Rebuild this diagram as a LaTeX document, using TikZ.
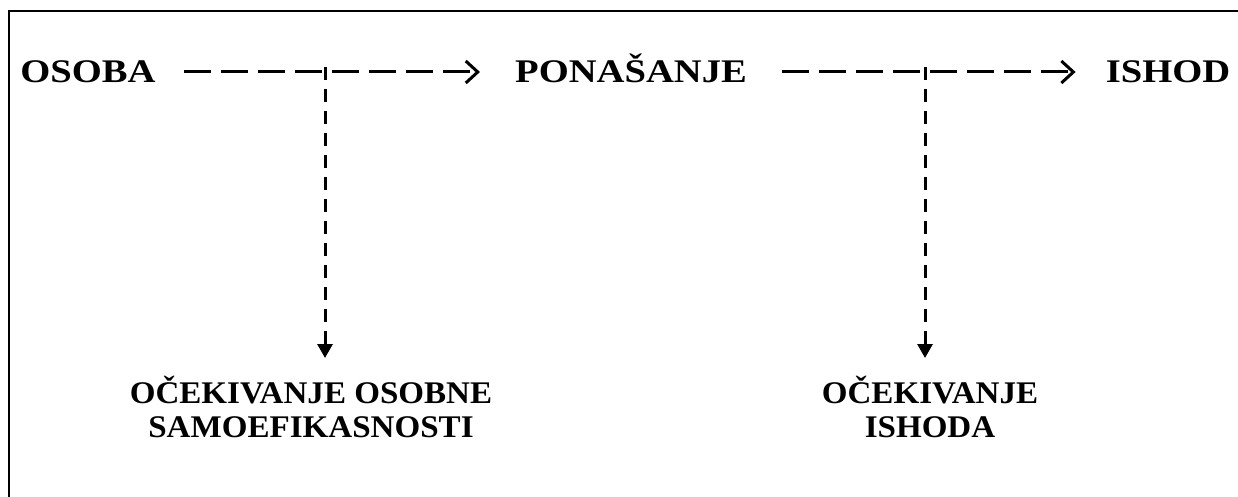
\documentclass[tikz,border=0pt]{standalone}
\usepackage{fontspec}
\usepackage{graphicx}
\setmainfont{Liberation Serif}
\usetikzlibrary{arrows.meta}
\begin{document}
\begin{tikzpicture}[x=1pt,y=-1pt,
  toplbl/.style={font=\bfseries\fontsize{33}{33}\selectfont, inner sep=0pt, text height=22pt, text depth=0pt, anchor=base},
  botlbl/.style={font=\bfseries\fontsize{31.5}{34}\selectfont, inner sep=0pt, anchor=base},
  hflow/.style={line width=3pt, dash pattern=on 27pt off 10pt, -{Straight Barb[length=12pt,width=22pt,line width=3pt]}},
  vflow/.style={line width=3pt, dash pattern=on 13pt off 9pt, -{Triangle[length=14pt,width=15pt]}},
  frame/.style={line width=2pt}]
\useasboundingbox (0,0) rectangle (1238,497);
\draw[frame] (8.5,497) -- (8.5,11) -- (1238,11);
\node[toplbl] (osoba) at (88,83) {\scalebox{1.17}[1]{OSOBA}};
\node[toplbl] (ponasanje) at (631,83) {\scalebox{1.17}[1]{PONAŠANJE}};
\node[toplbl] (ishod) at (1168,83) {\scalebox{1.17}[1]{ISHOD}};
\node[botlbl] (ocek1) at (311,403) {\scalebox{1.05}[1]{\begin{tabular}[t]{@{}c@{}}OČEKIVANJE OSOBNE\\SAMOEFIKASNOSTI\end{tabular}}};
\node[botlbl] (ocek2) at (930,403) {\scalebox{1.05}[1]{\begin{tabular}[t]{@{}c@{}}OČEKIVANJE\\ISHODA\end{tabular}}};
\coordinate (j1) at (325,67);
\coordinate (j2) at (925,67);
\coordinate (t1) at (325,358);
\coordinate (t2) at (925,358);
\draw[hflow, shorten <=28pt, shorten >=35pt] (osoba) -- (ponasanje);
\draw[hflow, shorten <=35pt, shorten >=30pt] (ponasanje) -- (ishod);
\draw[vflow] (j1) -- (t1);
\draw[vflow] (j2) -- (t2);
\end{tikzpicture}
\end{document}
